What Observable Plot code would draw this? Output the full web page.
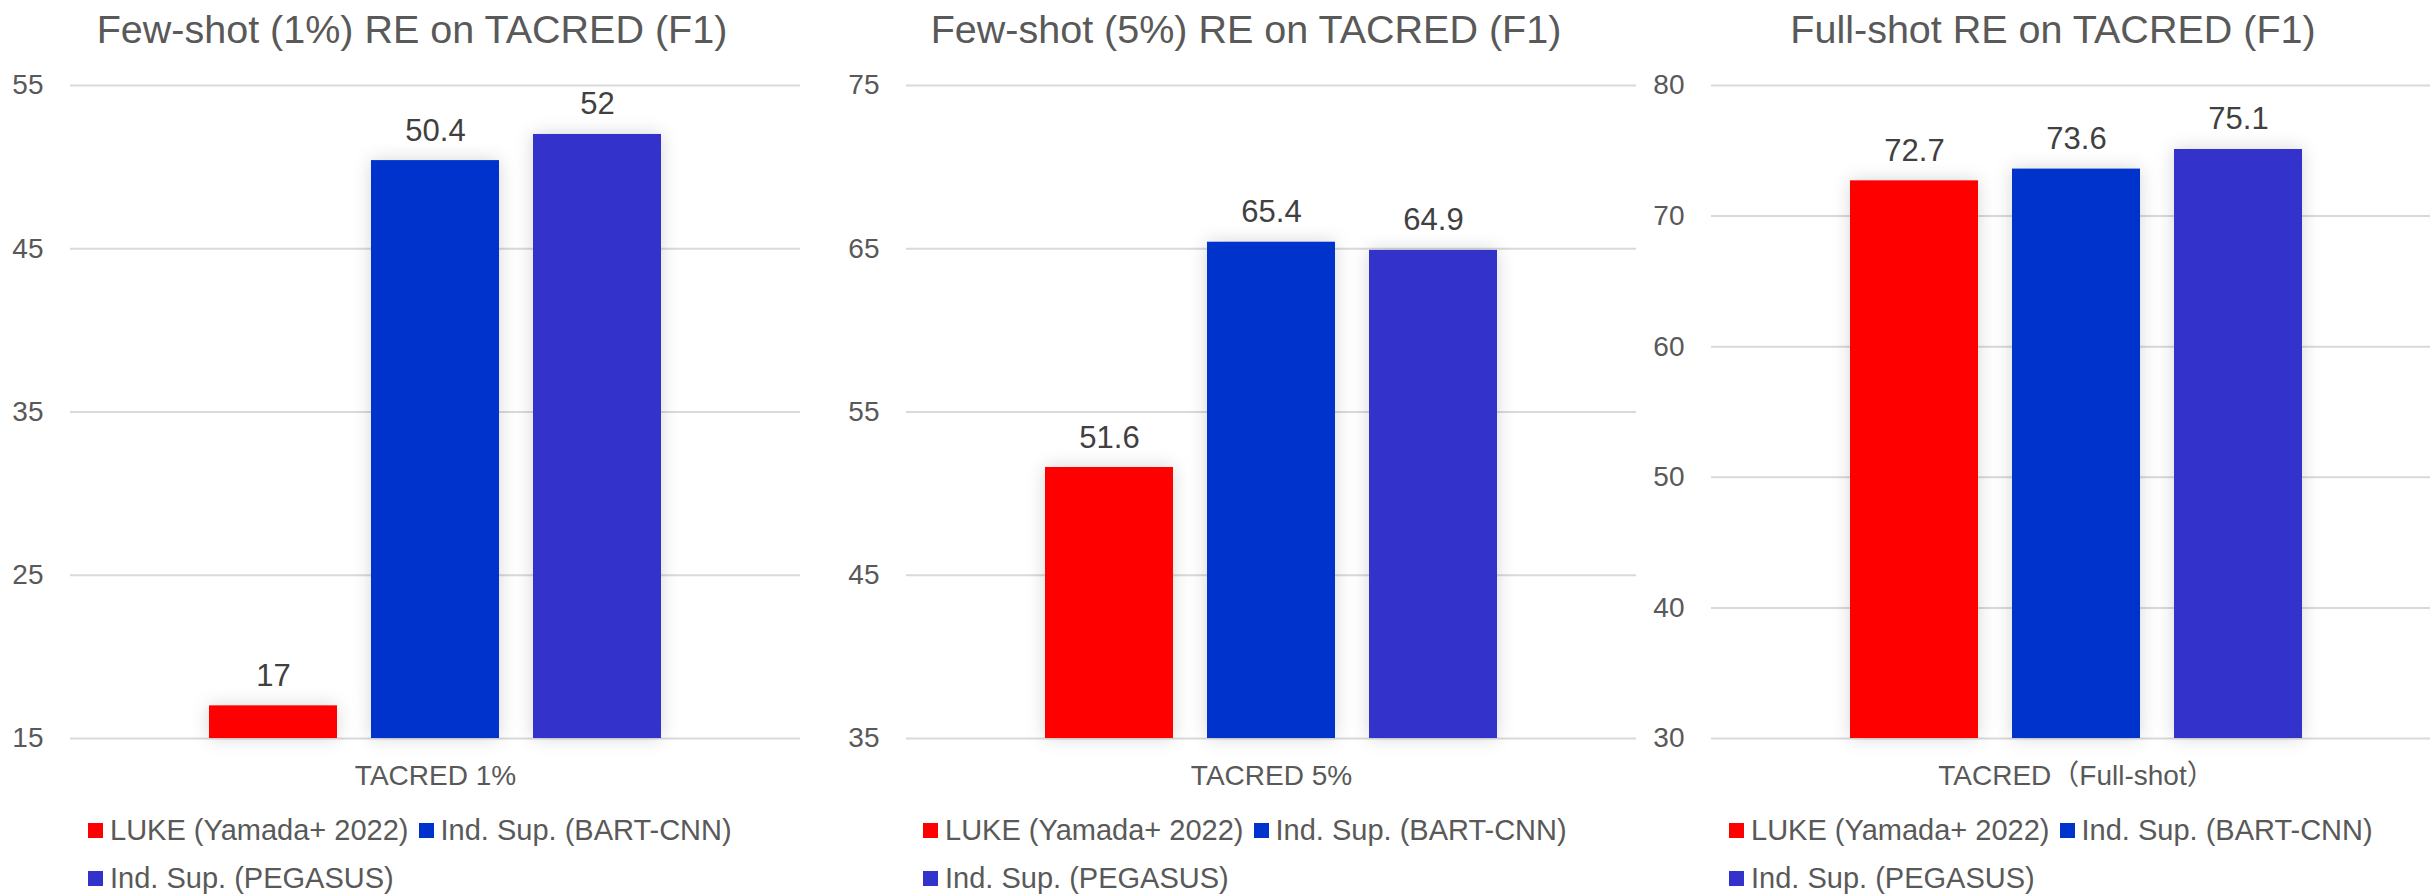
<!DOCTYPE html>
<html>
<head>
<meta charset="utf-8">
<script src="https://cdn.jsdelivr.net/npm/d3@7"></script>
<script src="https://cdn.jsdelivr.net/npm/@observablehq/plot@0.6"></script>
<style>
  body { margin: 0; background: #fff; font-family: "Liberation Sans", Arial, "Noto Sans CJK JP", sans-serif; }
  #root { position: relative; width: 2430px; height: 894px; overflow: hidden; background: #fff; }
  .panel { position: absolute; top: 0; }
  .title { position: absolute; font-size: 39.5px; line-height: 1; color: #595959; white-space: nowrap; transform: translateX(-50%); }
  .legend { position: absolute; display: flex; flex-wrap: wrap; color: #595959; font-size: 29px; width: 720px; }
  .item { display: inline-flex; align-items: center; height: 48px; margin-right: 10px; white-space: nowrap; }
  .sw { width: 15px; height: 15px; margin-right: 7px; flex: none; }
  svg g[aria-label="bar"] { filter: drop-shadow(0 0 9px rgba(0,0,0,0.16)); }
</style>
</head>
<body>
<div id="root"></div>
<script>
// ---- data ----
const series = ["LUKE (Yamada+ 2022)", "Ind. Sup. (BART-CNN)", "Ind. Sup. (PEGASUS)"];
const colors = ["#ff0000", "#0033cc", "#3333cc"];
const titles = ["Few-shot (1%) RE on TACRED (F1)", "Few-shot (5%) RE on TACRED (F1)", "Full-shot RE on TACRED (F1)"];
const categories = ["TACRED 1%", "TACRED 5%", "TACRED（Full-shot）"];
const values1 = [17, 50.4, 52];
const values5 = [51.6, 65.4, 64.9];
const valuesFull = [72.7, 73.6, 75.1];
const yDomain1 = [15, 55];
const yDomain5 = [35, 75];
const yDomainFull = [30, 80];
const yTicks1 = [15, 25, 35, 45, 55];
const yTicks5 = [35, 45, 55, 65, 75];
const yTicksFull = [30, 40, 50, 60, 70, 80];

// ---- layout ----
const panels = [
  {values: values1, domain: yDomain1, ticks: yTicks1, left: 0, width: 810, marginLeft: 70, marginRight: 10, titleX: 412, legendX: 88},
  {values: values5, domain: yDomain5, ticks: yTicks5, left: 810, width: 836, marginLeft: 96, marginRight: 10, titleX: 1246, legendX: 923},
  {values: valuesFull, domain: yDomainFull, ticks: yTicksFull, left: 1620, width: 821, marginLeft: 91, marginRight: 0, titleX: 2053, legendX: 1729}
];

const root = document.getElementById("root");

panels.forEach((p, k) => {
  const data = series.map((s, i) => ({series: s, value: p.values[i]}));
  const base = p.domain[0];
  const chart = Plot.plot({
    width: p.width,
    height: 800,
    marginTop: 85,
    marginBottom: 62,
    marginLeft: p.marginLeft,
    marginRight: p.marginRight,
    style: {background: "transparent", fontSize: "28px", fontFamily: "'Liberation Sans', Arial, 'Noto Sans CJK JP', sans-serif", color: "#595959", overflow: "visible"},
    x: {domain: series, paddingInner: 0.21, paddingOuter: 0.858, axis: null},
    y: {domain: p.domain, ticks: p.ticks, tickSize: 0, tickPadding: 27, label: null},
    color: {domain: series, range: colors},
    marks: [
      Plot.ruleY(p.ticks, {stroke: "#d9d9d9", strokeWidth: 2}),
      Plot.barY(data, {x: "series", y1: () => base, y2: "value", fill: "series"}),
      Plot.text(data, {x: "series", y: "value", text: d => String(d.value), dy: -20, lineAnchor: "bottom", fontSize: 31, fill: "#404040"}),
      Plot.text([categories[k]], {text: d => d, frameAnchor: "bottom", lineAnchor: "top", dy: 27, fontSize: 28, fill: "#595959"})
    ]
  });
  const div = document.createElement("div");
  div.className = "panel";
  div.style.left = p.left + "px";
  div.style.width = p.width + "px";
  div.appendChild(chart);
  root.appendChild(div);

  const t = document.createElement("div");
  t.className = "title";
  t.style.left = p.titleX + "px";
  t.style.top = "9.6px";
  t.textContent = titles[k];
  root.appendChild(t);

  const lg = document.createElement("div");
  lg.className = "legend";
  lg.style.left = p.legendX + "px";
  lg.style.top = "806px";
  series.forEach((s, i) => {
    const it = document.createElement("span");
    it.className = "item";
    const sw = document.createElement("span");
    sw.className = "sw";
    sw.style.background = colors[i];
    it.appendChild(sw);
    it.appendChild(document.createTextNode(s));
    lg.appendChild(it);
  });
  root.appendChild(lg);
});
</script>
</body>
</html>
